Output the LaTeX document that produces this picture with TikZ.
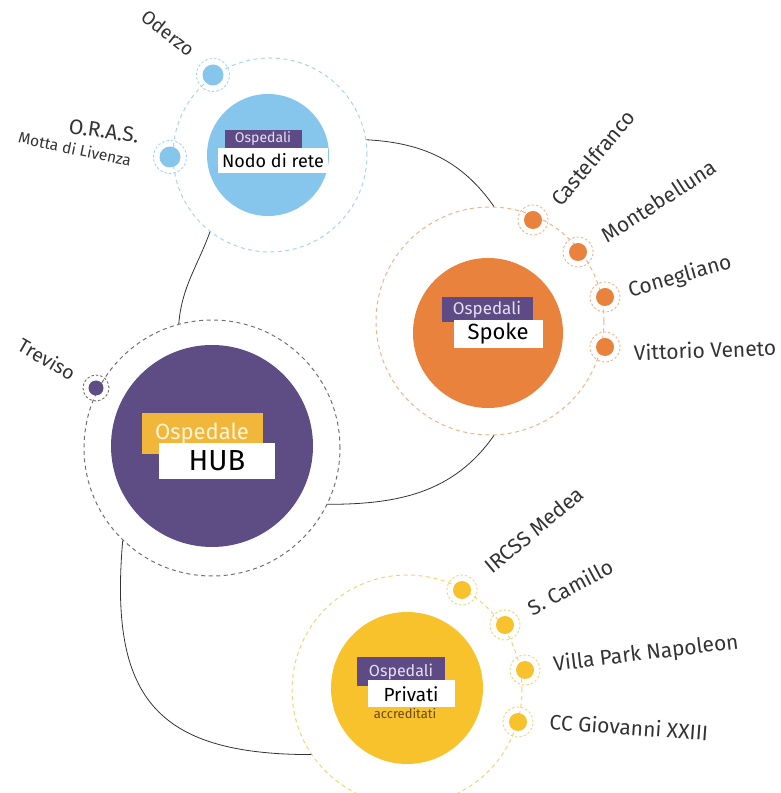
\documentclass[tikz,border=0pt]{standalone}
\usepackage{fontspec}
\setmainfont{Fira Sans}
\usetikzlibrary{positioning,calc}
\definecolor{netblue}{HTML}{86C5EC}
\definecolor{netring}{HTML}{A9D4EE}
\definecolor{spokeor}{HTML}{E8823C}
\definecolor{spokering}{HTML}{EDB48E}
\definecolor{hubpurple}{HTML}{5D4D84}
\definecolor{hubring}{HTML}{707070}
\definecolor{privyel}{HTML}{F7C22C}
\definecolor{privring}{HTML}{F3D27A}
\definecolor{tagpurple}{HTML}{5E4A85}
\definecolor{tagtext}{HTML}{E6E0F2}
\definecolor{tagyel}{HTML}{F0B73B}
\definecolor{tagyeltext}{HTML}{FFF4D8}
\definecolor{labelgray}{HTML}{333333}
\definecolor{accrtext}{HTML}{6B4A10}

\begin{document}
\begin{tikzpicture}[x=1pt, y=1pt,
    core/.style={circle, inner sep=0pt, minimum size=#1},
    ring/.style={circle, draw=#1, dash pattern=on 4pt off 3.5pt, line width=1pt, inner sep=0pt},
    dotring/.style={circle, draw=#1, dash pattern=on 2.5pt off 2pt, line width=0.9pt, inner sep=0pt, minimum size=30pt},
    dotcore/.style={circle, fill=#1, inner sep=0pt, minimum size=18pt},
    place/.style={text=labelgray, inner sep=0pt, font=\fontsize{21pt}{24pt}\selectfont},
    tagbox/.style={fill=tagpurple, text=tagtext, inner sep=0pt},
    namebox/.style={fill=white, text=black, inner sep=0pt},
    link/.style={draw=black!80, line width=0.8pt}
  ]
\useasboundingbox (0,0) rectangle (780,793);

% outer rings and filled circles
\node[ring=netring, minimum size=194pt]    (nodoring)   at (270,638) {};
\node[core=122pt, fill=netblue]            (nodo)       at (268,638) {};
\node[ring=spokering, minimum size=228pt]  (spokering)  at (490,472) {};
\node[core=150pt, fill=spokeor]            (spoke)      at (488,460) {};
\node[ring=hubring, minimum size=256pt]    (hubring)    at (212,345) {};
\node[core=202pt, fill=hubpurple]          (hub)        at (212,347) {};
\node[ring=privring, minimum size=230pt]   (privring)   at (407,103) {};
\node[core=152pt, fill=privyel]            (priv)       at (407,105) {};

% links between the groups
\draw[link] (nodoring.9) to[out=-3, in=125] (spokering.88);
\draw[link] (nodoring.232) to[out=250, in=85] (hubring.105);
\draw[link] (hubring.-26) to[out=0, in=235] (spokering.272);
\draw[link] (hubring.226) to[out=265, in=180, looseness=1.4] (privring.214);

% tags
\node[tagbox, minimum width=77pt, minimum height=18pt, font=\fontsize{14pt}{16pt}\selectfont] (nodotag) at (263,654) {Ospedali};
\node[namebox, minimum width=110pt, minimum height=25pt, font=\fontsize{18pt}{21pt}\selectfont] (nodoname) at (273,632) {Nodo di rete};
\node[tagbox, minimum width=91pt, minimum height=25pt, font=\fontsize{17pt}{19pt}\selectfont] (spoketag) at (487,483) {Ospedali};
\node[namebox, minimum width=89pt, minimum height=28pt, font=\fontsize{22pt}{25pt}\selectfont] (spokename) at (498,459) {Spoke};
\node[tagbox, fill=tagyel, text=tagyeltext, minimum width=121pt, minimum height=41pt, font=\fontsize{22pt}{25pt}\selectfont] (hubtag) at (202,359) {Ospedale};
\node[namebox, minimum width=116pt, minimum height=36pt, font=\fontsize{29pt}{32pt}\selectfont] (hubname) at (217,332) {HUB};
\node[tagbox, minimum width=88pt, minimum height=29pt, font=\fontsize{16pt}{18pt}\selectfont] (privtag) at (401,121) {Ospedali};
\node[namebox, minimum width=87pt, minimum height=27pt, font=\fontsize{19pt}{22pt}\selectfont] (privname) at (411,99) {Privati};
\node[text=accrtext, inner sep=0pt, font=\fontsize{13pt}{14pt}\selectfont] (accr) at (405,79) {accreditati};

% hospitals
\foreach \n/\d/\l/\a/\t/\s in {
    oderzo/{213,718}/{168,760}/-38/Oderzo/19,
    oras/{170,636}/{104,662}/-8/O.R.A.S./21}{
  \node[dotring=netring, minimum size=33pt] (\n-ring) at (\d) {};
  \node[dotcore=netblue, minimum size=21pt] (\n) at (\d) {};
  \node[place, font=\fontsize{\s pt}{22pt}\selectfont, rotate=\a] (\n-lbl) at (\l) {\t};
}
\node[place, font=\fontsize{15.5pt}{17pt}\selectfont, rotate=-12] (motta) at (75,644) {Motta di Livenza};

\foreach \n/\d/\l/\a/\t in {
    castel/{533,573}/{593,635}/50/Castelfranco,
    monte/{578,541}/{659,592}/33/Montebelluna,
    coneg/{605,496}/{680,516}/16/Conegliano,
    vitt/{605,446}/{705,443}/2/Vittorio Veneto}{
  \node[dotring=spokering] (\n-ring) at (\d) {};
  \node[dotcore=spokeor] (\n) at (\d) {};
  \node[place, rotate=\a] (\n-lbl) at (\l) {\t};
}

\node[dotring=hubring, minimum size=26pt] (treviso-ring) at (96,405) {};
\node[dotcore=hubpurple, minimum size=15pt] (treviso) at (96,405) {};
\node[place, font=\fontsize{19.5pt}{22pt}\selectfont, rotate=-30] (treviso-lbl) at (47,434) {Treviso};

\foreach \n/\d/\l/\a/\t in {
    medea/{462,203}/{534,263}/40/IRCSS Medea,
    camillo/{505,168}/{570,206}/28/S. Camillo,
    villa/{525,123}/{646,139}/7/Villa Park Napoleon,
    giov/{518,71}/{629,66}/-4/CC Giovanni XXIII}{
  \node[dotring=privring] (\n-ring) at (\d) {};
  \node[dotcore=privyel] (\n) at (\d) {};
  \node[place, rotate=\a] (\n-lbl) at (\l) {\t};
}
\end{tikzpicture}
\end{document}
